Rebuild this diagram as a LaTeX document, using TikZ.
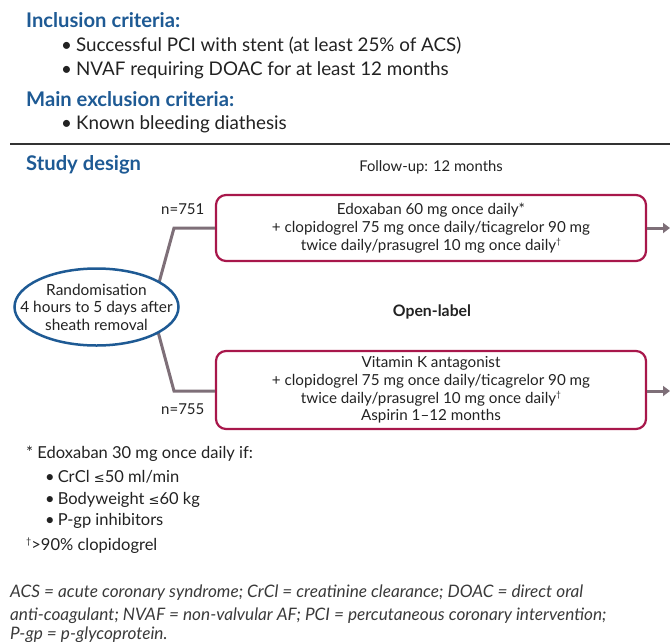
\documentclass[tikz,border=0pt]{standalone}
\usepackage{fontspec}
\setmainfont{Lato}
\newfontfamily\symfont{DejaVu Sans}
\usetikzlibrary{shapes.geometric,arrows.meta}
\definecolor{hblue}{HTML}{1E5A94}
\definecolor{crim}{HTML}{A8174B}
\definecolor{conn}{HTML}{7E6F78}
\definecolor{txt}{HTML}{222222}
\definecolor{abbr}{HTML}{3A3A3A}
\newcommand{\mydag}{\raisebox{5.5pt}{\fontsize{8.5}{9}\selectfont\dag}}
\tikzset{
  head/.style={anchor=base west, inner sep=0pt, text=hblue, font=\fontsize{20.2}{22}\selectfont\bfseries},
  big/.style={anchor=base west, inner sep=0pt, text=txt, font=\fontsize{18.8}{22}\selectfont},
  small/.style={anchor=base west, inner sep=0pt, text=txt, font=\fontsize{16.5}{19}\selectfont},
  armbox/.style={draw=crim, line width=2.2pt, rounded corners=10pt, minimum width=430pt, align=center, text=txt, font=\fontsize{15.2}{17.8}\selectfont, inner sep=0pt},
  link/.style={draw=conn, line width=3pt},
  outarrow/.style={draw=conn, line width=3pt, -{Triangle[length=7pt,width=10pt]}},
  abbrs/.style={anchor=base west, inner sep=0pt, text=abbr, font=\fontsize{17.2}{20}\selectfont\itshape},
  oval/.style={draw=hblue, line width=2.5pt, fill=white},
}
\begin{document}
\begin{tikzpicture}[x=1pt,y=-1pt]
\useasboundingbox (0,0) rectangle (670,641);
% top criteria
\node[head] (inc) at (26,27) {Inclusion criteria:};
\node[big] (inc1) at (61,51) {\textbullet\hspace{4pt}Successful PCI with stent (at least 25\% of ACS)};
\node[big] (inc2) at (61,75) {\textbullet\hspace{4pt}NVAF requiring DOAC for at least 12 months};
\node[head] (exc) at (26,106) {Main exclusion criteria:};
\node[big] (exc1) at (61,129) {\textbullet\hspace{4pt}Known bleeding diathesis};
\coordinate (ruleL) at (10,144);
\coordinate (ruleR) at (670,144);
\draw[draw=black!80, line width=1.3pt] (ruleL) -- (ruleR);
% study design
\node[head] (sd) at (26,170) {Study design};
\node[anchor=base, inner sep=0pt, text=txt, font=\fontsize{14.8}{17}\selectfont] (fu) at (431,171) {Follow-up: 12 months};
% boxes
\node[armbox, minimum height=66pt] (boxA) at (431,228) {Edoxaban 60 mg once daily*\\+ clopidogrel 75 mg once daily/ticagrelor 90 mg\\twice daily/prasugrel 10 mg once daily\mydag};
\node[armbox, minimum height=78pt] (boxB) at (431,390) {Vitamin K antagonist\\+ clopidogrel 75 mg once daily/ticagrelor 90 mg\\twice daily/prasugrel 10 mg once daily\mydag\\Aspirin 1--12 months};
% connectors
\coordinate (randc) at (96.5,307);
\coordinate (cA) at (174,228);
\coordinate (cB) at (174,391);
\coordinate (eA) at (157,290);
\coordinate (eB) at (157,328);
\draw[link] (boxA.west |- cA) -- (cA) -- (eA);
\draw[link] (boxB.west |- cB) -- (cB) -- (eB);
\path[oval] (randc) ellipse [x radius=82, y radius=38.5];
\node[inner sep=0pt, align=center, text=txt, font=\fontsize{15.4}{17.6}\selectfont] (rand) at (randc) {Randomisation\\4 hours to 5 days after\\sheath removal};
\coordinate (endA) at (670,228);
\coordinate (endB) at (670,391);
\draw[outarrow] (boxA.east |- endA) -- (endA);
\draw[outarrow] (boxB.east |- endB) -- (endB);
\node[anchor=base west, inner sep=0pt, text=txt, font=\fontsize{15}{17}\selectfont] (nA) at (161,214) {n=751};
\node[anchor=base west, inner sep=0pt, text=txt, font=\fontsize{15}{17}\selectfont] (nB) at (161,414) {n=755};
\node[anchor=base, inner sep=0pt, text=txt, font=\fontsize{15.8}{17}\selectfont\bfseries] (ol) at (432,316) {Open-label};
% footnotes
\node[small] (f0) at (26,458) {* Edoxaban 30 mg once daily if:};
\node[small] (f1) at (45,482) {\textbullet\hspace{3pt}CrCl {\symfont\fontsize{13}{14}\selectfont ≤}50 ml/min};
\node[small] (f2) at (45,504) {\textbullet\hspace{3pt}Bodyweight {\symfont\fontsize{13}{14}\selectfont ≤}60 kg};
\node[small] (f3) at (45,525) {\textbullet\hspace{3pt}P-gp inhibitors};
\node[small] (f4) at (26,550) {\raisebox{6pt}{\fontsize{9}{10}\selectfont\dag}>90\% clopidogrel};
\node[abbrs] (a1) at (10,597) {ACS = acute coronary syndrome; CrCl = creatinine clearance; DOAC = direct oral};
\node[abbrs] (a2) at (10,620) {anti-coagulant; NVAF = non-valvular AF; PCI = percutaneous coronary intervention;};
\node[abbrs] (a3) at (10,639) {P-gp = p-glycoprotein.};
\end{tikzpicture}
\end{document}
